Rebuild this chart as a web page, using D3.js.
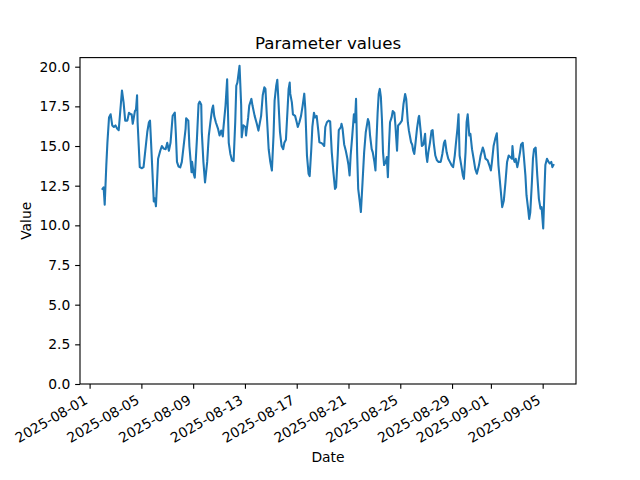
<!DOCTYPE html>
<html>
<head>
<meta charset="utf-8">
<script src="https://cdn.jsdelivr.net/npm/d3@7"></script>
<style>
  html, body { margin: 0; padding: 0; background: #fff; }
  svg { display: block; font-family: "DejaVu Sans", sans-serif; }
</style>
</head>
<body>
<svg id="chart" width="640" height="480"></svg>
<script>
const title = "Parameter values";
const xLabel = "Date";
const yLabel = "Value";

const dates = [
  "2025-08-02 00","2025-08-02 02","2025-08-02 04","2025-08-02 07","2025-08-02 09","2025-08-02 12","2025-08-02 15","2025-08-02 18","2025-08-02 21",
  "2025-08-03 00","2025-08-03 03","2025-08-03 06","2025-08-03 12","2025-08-03 15","2025-08-03 18","2025-08-03 22",
  "2025-08-04 01","2025-08-04 04","2025-08-04 06","2025-08-04 08","2025-08-04 12","2025-08-04 14","2025-08-04 16","2025-08-04 17","2025-08-04 21",
  "2025-08-05 01","2025-08-05 04","2025-08-05 11","2025-08-05 14","2025-08-05 16","2025-08-05 18","2025-08-05 23",
  "2025-08-06 01","2025-08-06 03","2025-08-06 07","2025-08-06 11","2025-08-06 14","2025-08-06 17","2025-08-06 21",
  "2025-08-07 00","2025-08-07 03","2025-08-07 06","2025-08-07 10","2025-08-07 14","2025-08-07 16","2025-08-07 18","2025-08-07 21",
  "2025-08-08 00","2025-08-08 03","2025-08-08 10","2025-08-08 11","2025-08-08 15","2025-08-08 17","2025-08-08 21","2025-08-08 22",
  "2025-08-09 01","2025-08-09 03","2025-08-09 07","2025-08-09 10","2025-08-09 12","2025-08-09 15","2025-08-09 16","2025-08-09 19","2025-08-09 22",
  "2025-08-10 02","2025-08-10 05","2025-08-10 08","2025-08-10 11","2025-08-10 13","2025-08-10 15","2025-08-10 18","2025-08-10 22",
  "2025-08-11 01","2025-08-11 04","2025-08-11 07","2025-08-11 08","2025-08-11 12","2025-08-11 15","2025-08-11 18","2025-08-11 21",
  "2025-08-12 00","2025-08-12 03","2025-08-12 06","2025-08-12 08","2025-08-12 10","2025-08-12 14","2025-08-12 17","2025-08-12 18","2025-08-12 21",
  "2025-08-13 01","2025-08-13 02","2025-08-13 06","2025-08-13 08","2025-08-13 12","2025-08-13 14","2025-08-13 18","2025-08-13 22",
  "2025-08-14 01","2025-08-14 06","2025-08-14 09","2025-08-14 12","2025-08-14 14","2025-08-14 16","2025-08-14 20","2025-08-14 23",
  "2025-08-15 02","2025-08-15 05","2025-08-15 07","2025-08-15 10","2025-08-15 12","2025-08-15 14","2025-08-15 17","2025-08-15 20","2025-08-15 23",
  "2025-08-16 01","2025-08-16 04","2025-08-16 07","2025-08-16 09","2025-08-16 11","2025-08-16 12","2025-08-16 15","2025-08-16 17","2025-08-16 21",
  "2025-08-17 00","2025-08-17 02","2025-08-17 05","2025-08-17 08","2025-08-17 11","2025-08-17 14","2025-08-17 16","2025-08-17 19","2025-08-17 22",
  "2025-08-18 00","2025-08-18 03","2025-08-18 05","2025-08-18 08","2025-08-18 10","2025-08-18 13","2025-08-18 16","2025-08-18 18","2025-08-18 21",
  "2025-08-19 00","2025-08-19 03","2025-08-19 05","2025-08-19 08","2025-08-19 11","2025-08-19 14","2025-08-19 17","2025-08-19 20","2025-08-19 23",
  "2025-08-20 01","2025-08-20 04","2025-08-20 06","2025-08-20 10","2025-08-20 11","2025-08-20 13","2025-08-20 16","2025-08-20 19","2025-08-20 22",
  "2025-08-21 00","2025-08-21 02","2025-08-21 04","2025-08-21 07","2025-08-21 10","2025-08-21 12","2025-08-21 14","2025-08-21 16","2025-08-21 18","2025-08-21 21","2025-08-21 23",
  "2025-08-22 02","2025-08-22 05","2025-08-22 08","2025-08-22 12","2025-08-22 14","2025-08-22 16","2025-08-22 19","2025-08-22 21",
  "2025-08-23 00","2025-08-23 02","2025-08-23 04","2025-08-23 06","2025-08-23 08","2025-08-23 10","2025-08-23 12","2025-08-23 14","2025-08-23 16","2025-08-23 18","2025-08-23 21","2025-08-23 23",
  "2025-08-24 01","2025-08-24 03","2025-08-24 05","2025-08-24 08","2025-08-24 10","2025-08-24 13","2025-08-24 15","2025-08-24 18","2025-08-24 20","2025-08-24 23",
  "2025-08-25 03","2025-08-25 06","2025-08-25 09","2025-08-25 11","2025-08-25 14","2025-08-25 16","2025-08-25 20","2025-08-25 22",
  "2025-08-26 00","2025-08-26 02","2025-08-26 04","2025-08-26 07","2025-08-26 10","2025-08-26 11","2025-08-26 14","2025-08-26 16","2025-08-26 19","2025-08-26 22",
  "2025-08-27 00","2025-08-27 02","2025-08-27 04","2025-08-27 07","2025-08-27 10","2025-08-27 12","2025-08-27 14","2025-08-27 17","2025-08-27 20","2025-08-27 23",
  "2025-08-28 03","2025-08-28 06","2025-08-28 09","2025-08-28 11","2025-08-28 14","2025-08-28 17","2025-08-28 20","2025-08-28 23",
  "2025-08-29 02","2025-08-29 05","2025-08-29 07","2025-08-29 10","2025-08-29 12","2025-08-29 14","2025-08-29 17","2025-08-29 20","2025-08-29 22",
  "2025-08-30 01","2025-08-30 03","2025-08-30 05","2025-08-30 08","2025-08-30 10","2025-08-30 13","2025-08-30 16","2025-08-30 19","2025-08-30 22",
  "2025-08-31 02","2025-08-31 05","2025-08-31 09","2025-08-31 11","2025-08-31 14","2025-08-31 18","2025-08-31 21",
  "2025-09-01 00","2025-09-01 02","2025-09-01 05","2025-09-01 08","2025-09-01 11","2025-09-01 14","2025-09-01 18","2025-09-01 21",
  "2025-09-02 00","2025-09-02 03","2025-09-02 06","2025-09-02 09","2025-09-02 12","2025-09-02 15","2025-09-02 16","2025-09-02 18","2025-09-02 20","2025-09-02 22",
  "2025-09-03 01","2025-09-03 03","2025-09-03 06","2025-09-03 08","2025-09-03 11","2025-09-03 13","2025-09-03 16","2025-09-03 18","2025-09-03 21","2025-09-03 23",
  "2025-09-04 01","2025-09-04 04","2025-09-04 06","2025-09-04 08","2025-09-04 11","2025-09-04 14","2025-09-04 17","2025-09-04 20","2025-09-04 22",
  "2025-09-05 01","2025-09-05 03","2025-09-05 05","2025-09-05 08","2025-09-05 10","2025-09-05 13","2025-09-05 16","2025-09-05 18","2025-09-05 20"
];

const values = [
  12.3,12.4,11.3,13.8,15.2,16.8,17.0,16.3,16.2,
  16.3,16.1,16.0,18.5,17.75,16.6,16.6,
  17.1,17.0,17.0,16.4,17.2,17.3,18.2,16.5,13.67,
  13.6,13.67,15.9,16.5,16.6,15.2,11.5,
  11.7,11.2,14.2,14.7,15.0,14.85,14.8,
  15.2,14.7,15.2,16.9,17.1,15.7,14.0,13.7,
  13.65,14.0,16.1,16.75,16.6,15.0,13.35,14.0,
  13.25,13.0,15.45,17.65,17.8,17.6,15.9,14.0,12.7,
  14.0,15.66,16.5,17.3,17.55,16.9,16.5,16.1,
  15.66,15.98,15.6,16.1,17.55,19.2,15.2,14.5,
  14.1,14.05,16.5,18.8,19.0,20.06,17.6,15.55,16.3,
  16.2,15.66,16.8,17.55,17.97,17.55,16.9,16.4,
  15.97,16.9,18.2,18.7,18.6,17.3,14.8,14.0,
  13.46,15.66,17.86,18.8,19.18,17.9,15.87,15.0,14.8,
  15.2,15.4,17.3,18.6,19.0,18.3,17.75,17.0,16.9,
  16.5,16.2,16.5,16.9,17.55,18.3,17.3,14.4,13.25,
  13.1,14.8,16.2,17.1,16.8,16.9,15.97,15.24,15.2,
  15.14,15.0,16.2,16.5,16.6,16.55,14.6,13.35,12.3,
  12.4,14.4,16.0,16.2,16.4,16.1,15.1,14.7,14.2,
  13.8,13.15,14.4,15.66,17.0,16.5,17.97,14.6,12.3,11.47,10.84,
  12.7,14.6,15.87,16.7,16.5,15.66,14.8,14.6,
  14.0,13.46,15.45,17.1,18.28,18.6,18.1,16.7,14.6,13.8,14.0,14.3,
  13.04,15.0,16.5,16.8,17.2,17.1,16.3,14.7,16.3,16.4,
  16.6,17.65,18.28,17.97,16.5,15.97,15.24,15.1,
  14.7,14.5,15.1,16.1,16.8,16.9,15.87,15.0,15.1,15.77,
  14.5,14.0,14.6,15.2,15.97,16.0,15.2,14.4,14.1,14.0,
  14.0,14.5,15.2,15.35,14.6,14.2,14.0,13.8,
  13.67,14.4,15.1,16.1,17.0,14.4,13.8,13.15,12.93,
  14.6,16.5,17.0,15.66,15.77,14.8,14.2,13.56,13.25,
  13.8,14.4,14.9,14.7,14.2,14.1,13.8,
  13.46,14.0,15.0,15.45,15.8,13.8,12.3,11.15,
  11.57,12.7,14.0,14.4,14.3,14.2,15.0,14.2,14.0,14.2,
  13.67,14.0,14.6,15.1,15.2,14.4,13.15,11.9,11.05,10.4,
  10.8,12.7,14.2,14.8,14.9,13.15,11.67,11.05,11.15,
  9.8,11.9,13.8,14.2,14.05,13.9,14.0,13.67,13.8
];

const xTickLabels = ["2025-08-01","2025-08-05","2025-08-09","2025-08-13","2025-08-17",
                     "2025-08-21","2025-08-25","2025-08-29","2025-09-01","2025-09-05"];
const yTickValues = [0, 2.5, 5, 7.5, 10, 12.5, 15, 17.5, 20];

// ---- layout (matplotlib default 6.4x4.8 in @100dpi, autofmt_xdate) ----
const W = 640, H = 480;
const m = { left: 80, right: 576, top: 57.6, bottom: 384 };
const pt = 100 / 72;
const fontSize = 10 * pt;

const parse = d3.utcParse("%Y-%m-%d %H");
const data = dates.map((d, i) => ({ t: parse(d), v: values[i] }));

const tExt = d3.extent(data, d => d.t);
const span = tExt[1] - tExt[0];
const x = d3.scaleUtc()
  .domain([new Date(+tExt[0] - span * 0.05), new Date(+tExt[1] + span * 0.05)])
  .range([m.left, m.right]);

const vExt = d3.extent(values);
const y = d3.scaleLinear()
  .domain([0, vExt[1] + (vExt[1] - vExt[0]) * 0.05])
  .range([m.bottom, m.top]);

const svg = d3.select("#chart");
svg.append("rect").attr("width", W).attr("height", H).attr("fill", "#fff");

// line
const line = d3.line().x(d => x(d.t)).y(d => y(d.v));
svg.append("path")
  .datum(data)
  .attr("d", line)
  .attr("fill", "none")
  .attr("stroke", "#1f77b4")
  .attr("stroke-width", 1.5 * pt)
  .attr("stroke-linejoin", "round")
  .attr("stroke-linecap", "square");

// frame
svg.append("rect")
  .attr("x", m.left).attr("y", m.top)
  .attr("width", m.right - m.left).attr("height", m.bottom - m.top)
  .attr("fill", "none").attr("stroke", "#000").attr("stroke-width", 0.8 * pt);

// x axis
const xTicks = xTickLabels.map(s => d3.utcParse("%Y-%m-%d")(s));
const xAxis = d3.axisBottom(x)
  .tickValues(xTicks)
  .tickFormat(d3.utcFormat("%Y-%m-%d"))
  .tickSize(3.5 * pt)
  .tickPadding(3.5 * pt);
const gx = svg.append("g").attr("transform", `translate(0,${m.bottom})`).call(xAxis);
gx.select(".domain").remove();
gx.selectAll(".tick line").attr("stroke", "#000").attr("stroke-width", 0.8 * pt);
gx.selectAll(".tick text")
  .attr("fill", "#000")
  .style("font-size", fontSize + "px")
  .style("font-family", "DejaVu Sans")
  .attr("text-anchor", "end")
  .attr("dy", null)
  .attr("y", null)
  .attr("transform", `translate(-1.5,${3.5 * pt * 2 + 9.2}) rotate(-30)`);

// y axis
const yAxis = d3.axisLeft(y)
  .tickValues(yTickValues)
  .tickFormat(d3.format(".1f"))
  .tickSize(3.5 * pt)
  .tickPadding(3.5 * pt);
const gy = svg.append("g").attr("transform", `translate(${m.left},0)`).call(yAxis);
gy.select(".domain").remove();
gy.selectAll(".tick line").attr("stroke", "#000").attr("stroke-width", 0.8 * pt);
gy.selectAll(".tick text")
  .attr("fill", "#000")
  .style("font-size", fontSize + "px")
  .style("font-family", "DejaVu Sans");

// title
svg.append("text")
  .attr("x", (m.left + m.right) / 2).attr("y", m.top - 6 * pt)
  .attr("text-anchor", "middle")
  .style("font-size", 12 * pt + "px")
  .text(title);

// axis labels
svg.append("text")
  .attr("x", (m.left + m.right) / 2).attr("y", 462)
  .attr("text-anchor", "middle")
  .style("font-size", fontSize + "px")
  .text(xLabel);

svg.append("text")
  .attr("transform", `translate(31,${(m.top + m.bottom) / 2}) rotate(-90)`)
  .attr("text-anchor", "middle")
  .style("font-size", fontSize + "px")
  .text(yLabel);
</script>
</body>
</html>
